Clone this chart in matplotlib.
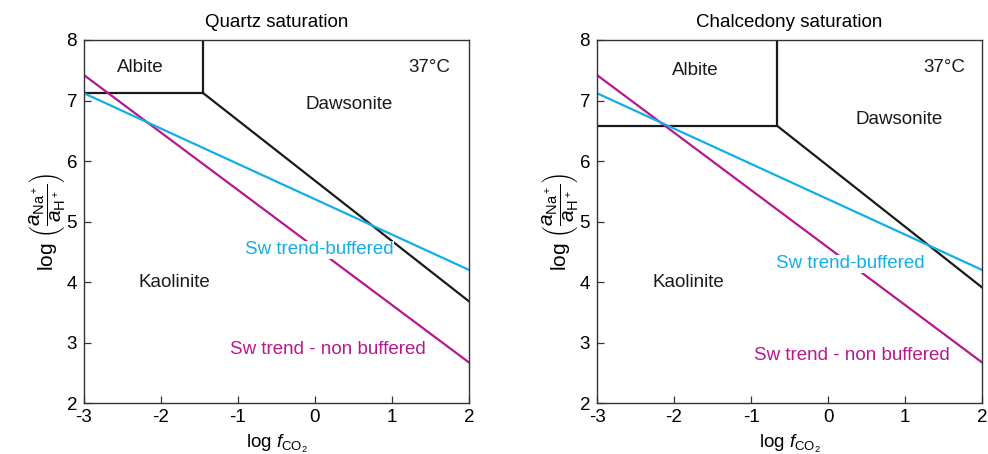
import matplotlib.pyplot as plt

plt.rcParams['font.family'] = ['Liberation Sans', 'DejaVu Sans']
plt.rcParams['mathtext.fontset'] = 'custom'
plt.rcParams['mathtext.rm'] = 'Liberation Sans'
plt.rcParams['mathtext.it'] = 'Liberation Sans:italic'

# seawater trends (same in both panels)
sw_x = [-3, 2]
sw_buffered = [7.12, 4.20]
sw_nonbuffered = [7.42, 2.67]

# phase boundaries: quartz saturation
qz_albite_x = [-3, -1.45, -1.45]
qz_albite_y = [7.12, 7.12, 8.0]
qz_daw_x = [-1.45, 2]
qz_daw_y = [7.12, 3.68]

# phase boundaries: chalcedony saturation
ch_albite_x = [-3, -0.66, -0.66]
ch_albite_y = [6.58, 6.58, 8.0]
ch_daw_x = [-0.66, 2]
ch_daw_y = [6.58, 3.91]

titles = ['Quartz saturation', 'Chalcedony saturation']
xticks = [-3, -2, -1, 0, 1, 2]
yticks = [2, 3, 4, 5, 6, 7, 8]

# field labels (x, y) for each panel
labels = [
    {'Albite': (-2.27, 7.55), '37°C': (1.49, 7.55), 'Dawsonite': (0.44, 6.93),
     'Kaolinite': (-1.83, 4.0), 'buf': (0.05, 4.53), 'nonbuf': (0.17, 2.89)},
    {'Albite': (-1.73, 7.49), '37°C': (1.51, 7.55), 'Dawsonite': (0.92, 6.68),
     'Kaolinite': (-1.82, 4.0), 'buf': (0.29, 4.30), 'nonbuf': (0.31, 2.79)},
]

blue = '#12aee8'
magenta = '#b8188e'
fs = 13.5

fig = plt.figure(figsize=(9.88, 4.54), dpi=100)
ax1 = fig.add_axes([0.085, 0.1123, 0.3897, 0.7996])
ax2 = fig.add_axes([0.6043, 0.1123, 0.3897, 0.7996])

bounds = [(qz_albite_x, qz_albite_y, qz_daw_x, qz_daw_y),
          (ch_albite_x, ch_albite_y, ch_daw_x, ch_daw_y)]

for ax, title, (ax_x, ax_y, dx, dy), lab in zip([ax1, ax2], titles, bounds, labels):
    ax.plot(ax_x, ax_y, color='#1a1a1a', lw=1.6, solid_joinstyle='miter', zorder=2)
    ax.plot(dx, dy, color='#1a1a1a', lw=1.6, zorder=2)
    ax.plot(sw_x, sw_nonbuffered, color=magenta, lw=1.6, zorder=2)
    ax.plot(sw_x, sw_buffered, color=blue, lw=1.6, zorder=2)

    for name in ['Albite', '37°C', 'Dawsonite', 'Kaolinite']:
        ax.text(*lab[name], name, fontsize=fs, ha='center', va='center', color='#1a1a1a')
    ax.text(*lab['buf'], 'Sw trend-buffered', fontsize=fs, ha='center', va='center',
            color=blue, zorder=3,
            bbox=dict(facecolor='white', edgecolor='none', pad=0.3))
    ax.text(*lab['nonbuf'], 'Sw trend - non buffered', fontsize=fs, ha='center',
            va='center', color=magenta, zorder=3)

    ax.set_xlim(-3, 2)
    ax.set_ylim(2, 8)
    ax.set_xticks(xticks)
    ax.set_yticks(yticks)
    ax.set_xticklabels([str(t) for t in xticks])
    ax.tick_params(direction='in', length=5, width=0.9, labelsize=fs, color='#333333')
    ax.tick_params(axis='x', pad=4)
    ax.tick_params(axis='y', pad=5)
    for s in ax.spines.values():
        s.set_color('#333333')
        s.set_linewidth(1.0)
    ax.set_title(title, fontsize=fs, pad=9)
    ax.set_xlabel(r'log $f_{\mathrm{CO}_2}$', fontsize=fs, labelpad=5)
    ax.set_ylabel(r'log $\left(\dfrac{a_{\mathrm{Na}^+}}{a_{\mathrm{H}^+}}\right)$',
                  fontsize=15, labelpad=0)

fig.savefig('out.png', dpi=100)
